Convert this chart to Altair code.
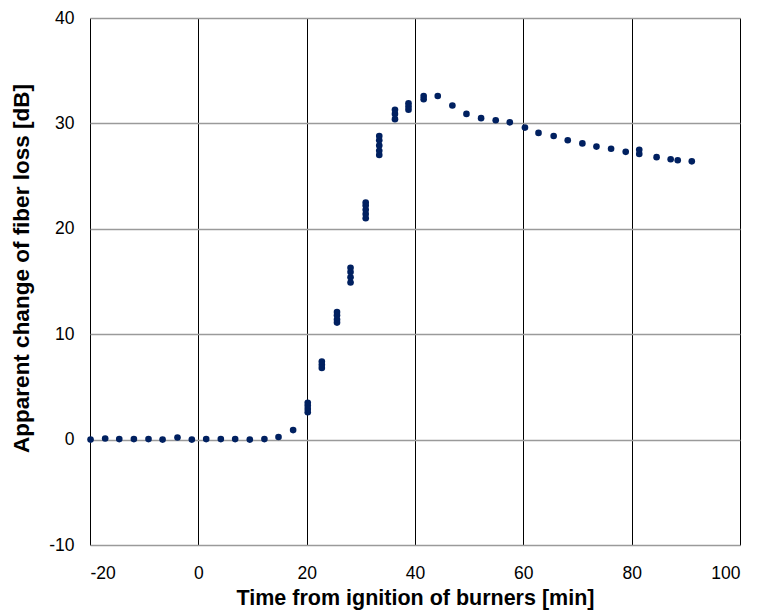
import altair as alt
import pandas as pd

time_min = [
    -19.9, -17.2, -14.6, -11.9, -9.2, -6.6, -3.85, -1.2, 1.45, 4.15, 6.8, 9.5, 12.2, 14.8, 17.5,
    20.2, 20.2, 20.2, 20.2,
    22.8, 22.8, 22.8,
    25.6, 25.6, 25.6, 25.6,
    28.1, 28.1, 28.1, 28.1,
    30.9, 30.9, 30.9, 30.9, 30.9,
    33.4, 33.4, 33.4, 33.4, 33.4,
    36.3, 36.3, 36.3,
    38.8, 38.8, 38.8,
    41.6, 41.6,
    44.2, 46.9, 49.5, 52.2, 54.9, 57.5, 60.3, 62.8, 65.6, 68.2, 70.9, 73.5, 76.2, 78.9,
    81.4, 81.4, 84.6, 87.2, 88.5, 91.1,
]
loss_db = [
    0.0, 0.1, 0.05, 0.05, 0.05, 0.0, 0.2, 0.0, 0.05, 0.05, 0.05, 0.0, 0.05, 0.25, 0.9,
    2.6, 2.9, 3.2, 3.5,
    6.8, 7.1, 7.4,
    11.1, 11.4, 11.8, 12.1,
    14.9, 15.4, 15.9, 16.3,
    21.0, 21.4, 21.8, 22.2, 22.5,
    27.0, 27.4, 27.9, 28.4, 28.8,
    30.4, 30.9, 31.3,
    31.3, 31.6, 31.9,
    32.3, 32.6,
    32.6, 31.7, 30.9, 30.5, 30.3, 30.1, 29.6, 29.1, 28.8, 28.4, 28.1, 27.8, 27.6, 27.3,
    27.5, 27.1, 26.8, 26.6, 26.5, 26.4,
]

x_ticks = [-20, 0, 20, 40, 60, 80, 100]
y_ticks = [-10, 0, 10, 20, 30, 40]

df = pd.DataFrame({"t": time_min, "loss": loss_db})

font = "Liberation Sans"
minus_fix = "replace(datum.label, '\u2212', '-')"

chart = (
    alt.Chart(df)
    .mark_circle(size=44, color="#002060", opacity=1)
    .encode(
        x=alt.X(
            "t:Q",
            scale=alt.Scale(domain=[-20, 100], nice=False, zero=False),
            axis=alt.Axis(
                values=x_ticks,
                title="Time from ignition of burners [min]",
                titleFontSize=21.5,
                titleFontWeight="bold",
                titleFont=font,
                titleColor="black",
                titlePadding=6,
                labelFont=font,
                labelFontSize=17.5,
                labelColor="black",
                labelPadding=19,
                labelExpr=minus_fix,
                ticks=False,
                domain=False,
                gridColor="black",
                gridWidth=1,
                gridOpacity=1,
            ),
        ),
        y=alt.Y(
            "loss:Q",
            scale=alt.Scale(domain=[-10, 40], nice=False, zero=False),
            axis=alt.Axis(
                values=y_ticks,
                title="Apparent change of fiber loss [dB]",
                titleFontSize=22.5,
                titleFontWeight="bold",
                titleFont=font,
                titleColor="black",
                titlePadding=15,
                titleY=250,
                labelFont=font,
                labelFontSize=17.5,
                labelColor="black",
                labelPadding=16,
                labelExpr=minus_fix,
                ticks=False,
                domain=False,
                gridColor="#9a9a9a",
                gridWidth=1.3,
                gridOpacity=1,
            ),
        ),
    )
    .properties(
        width=650,
        height=527,
        autosize=alt.AutoSizeParams(type="none"),
        padding={"left": 82, "top": 10, "right": 13, "bottom": 66},
    )
    .configure_view(stroke="black", strokeWidth=1.5)
    .configure(background="white")
)

chart.save("out.html", embed_options={"renderer": "svg", "actions": False})
